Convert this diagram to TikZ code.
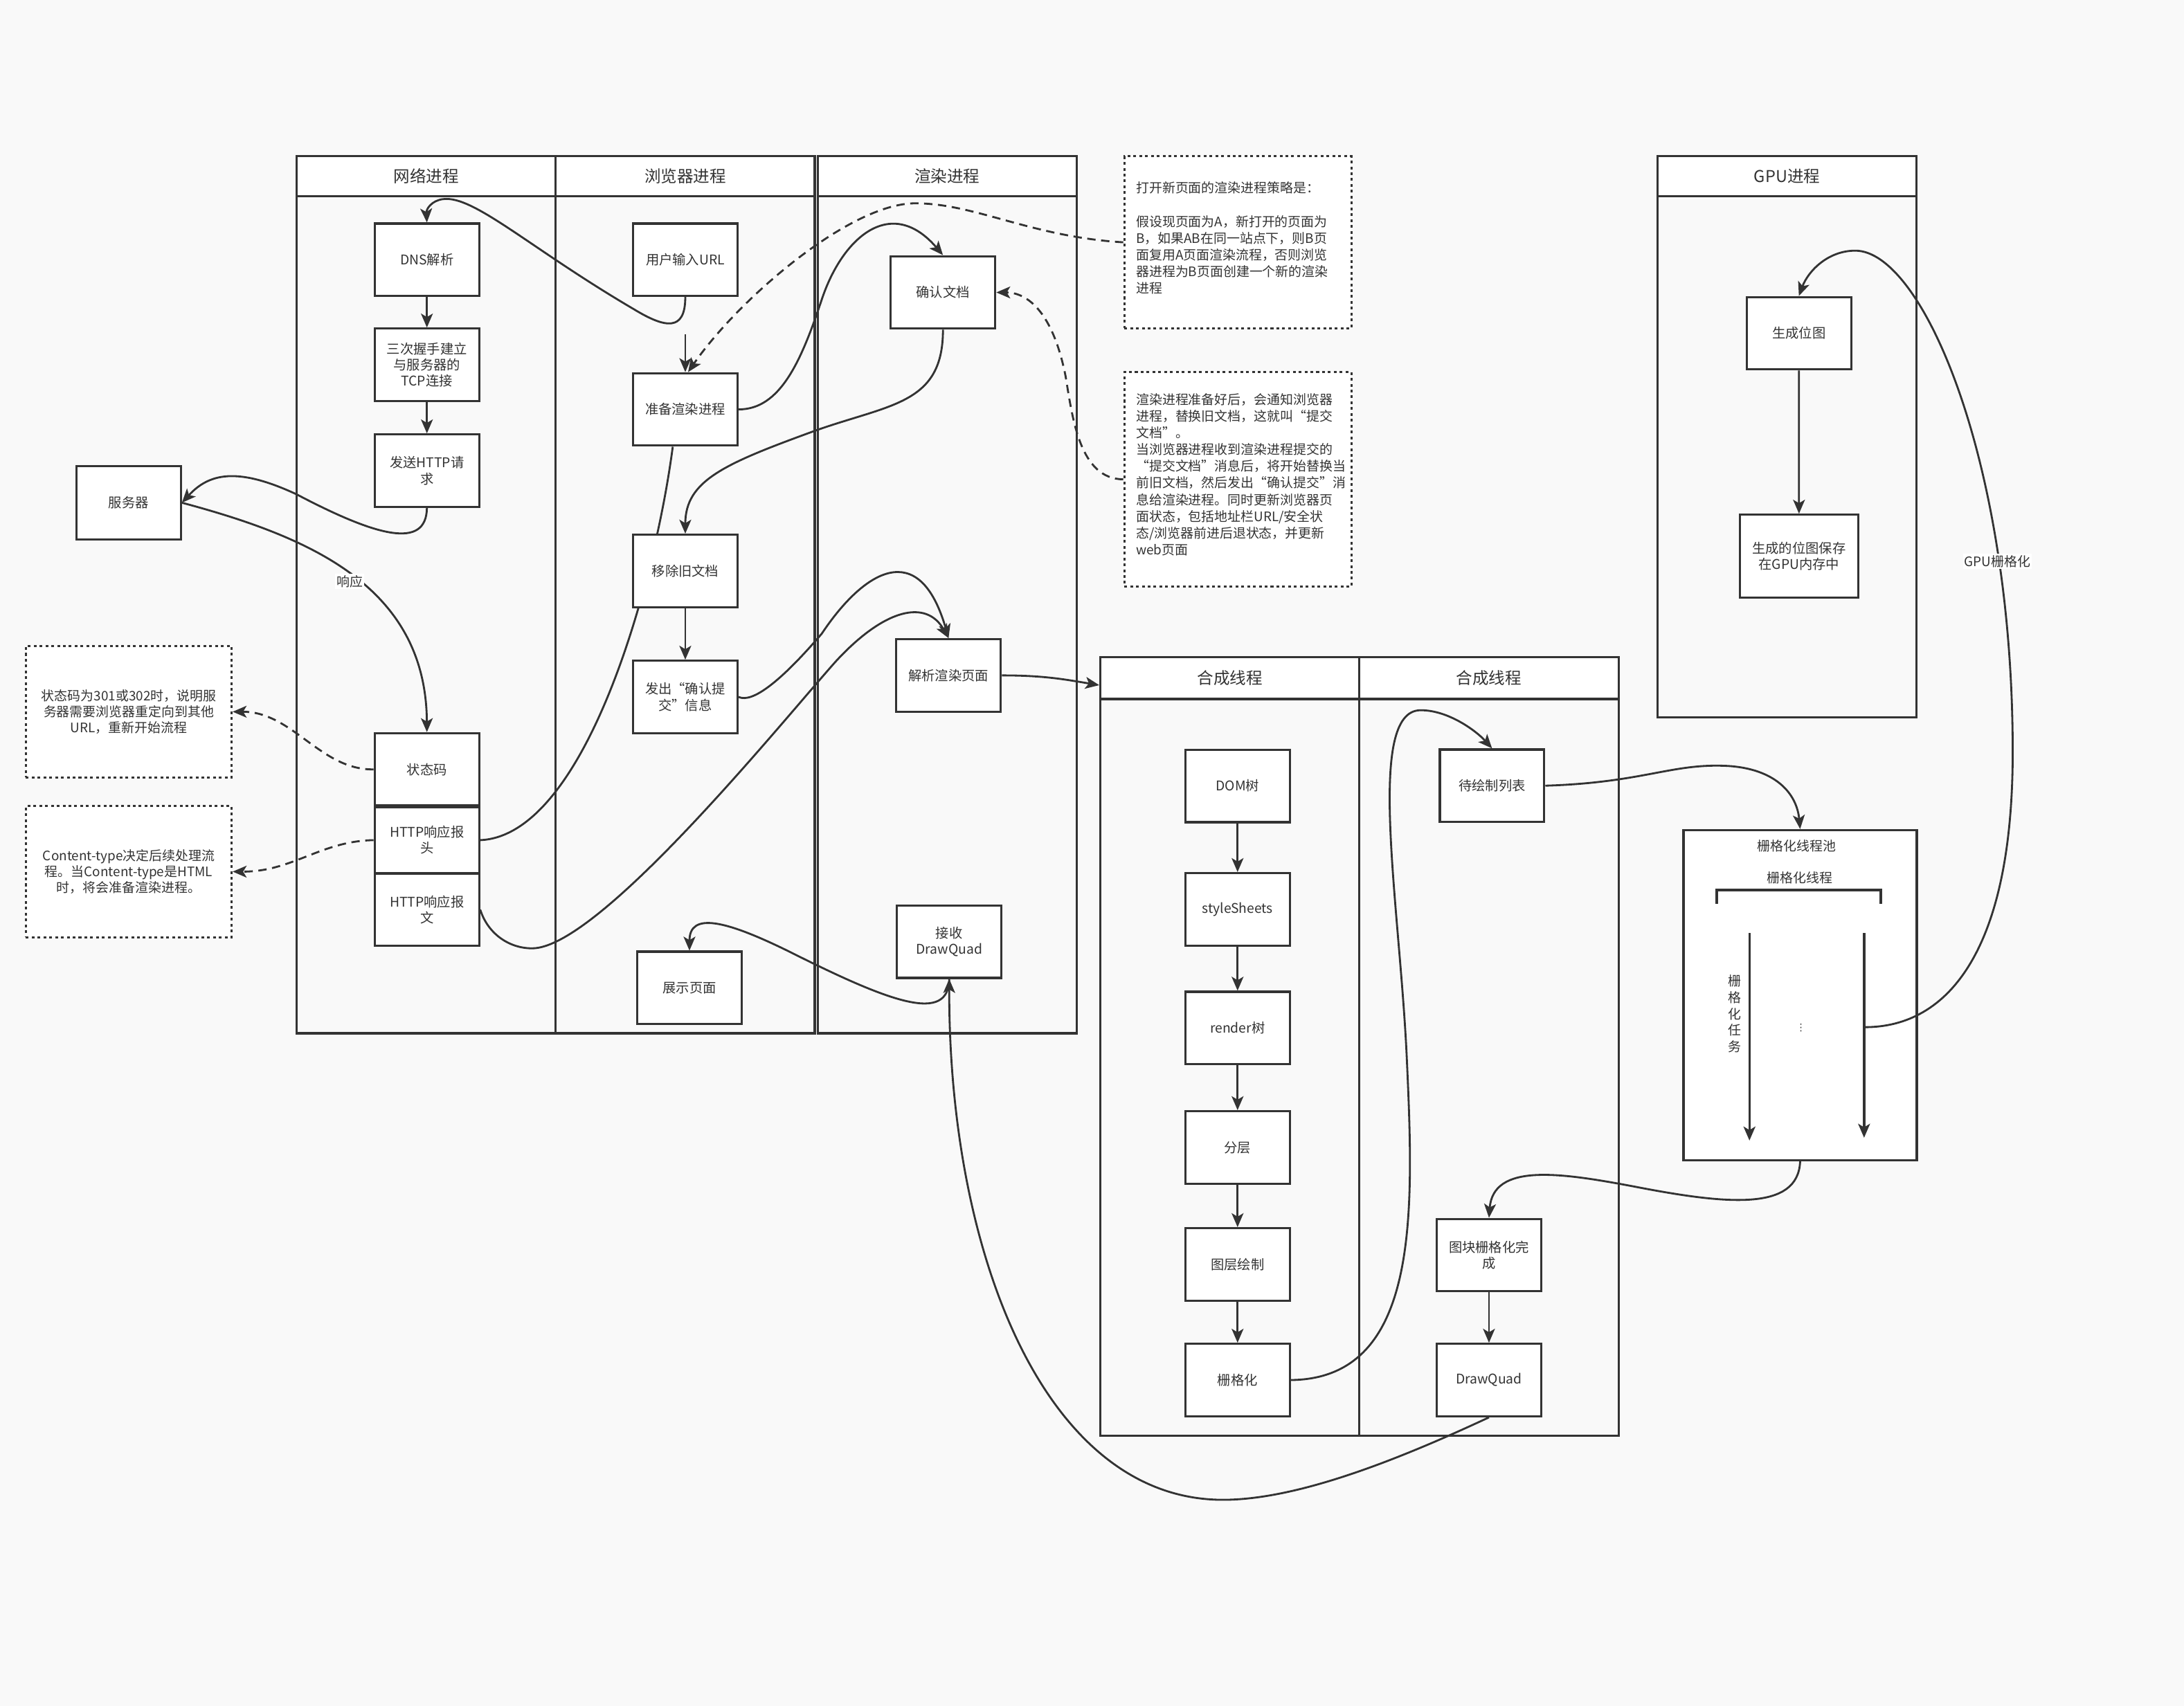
\documentclass[tikz,border=0pt]{standalone}
\usepackage{fontspec}
\setmainfont{Noto Sans CJK SC}
\newfontfamily\dejavu{DejaVu Sans}
\usetikzlibrary{arrows.meta,calc}
\definecolor{bgc}{HTML}{F9F9F9}
\definecolor{lc}{HTML}{333333}
\pgfdeclarelayer{bglayer}
\pgfdeclarelayer{edgelayer}
\pgfsetlayers{bglayer,edgelayer,main}
\begin{document}
\begin{tikzpicture}[x=1pt,y=-1pt,
  box/.style={draw=lc, fill=white, line width=1.6pt, minimum width=75pt, minimum height=52pt, inner sep=1pt, align=center, font=\fontsize{9.6}{11.5}\selectfont, text=lc},
  lanehead/.style={draw=lc, fill=white, line width=1.6pt, minimum width=186pt, minimum height=29pt, inner sep=0pt, font=\fontsize{11.7}{13}\selectfont, text=lc},
  lanebody/.style={draw=lc, line width=1.6pt},
  note/.style={draw=lc, fill=white, line width=1.5pt, dash pattern=on 2pt off 2.2pt, align=center, font=\fontsize{9.4}{11.6}\selectfont, text=lc, inner sep=0pt},
  notetext/.style={font=\fontsize{9.4}{12}\selectfont, text=lc, inner sep=0pt, align=left},
  con/.style={draw=lc, line width=1.4pt, -{Stealth[length=10pt,width=8.5pt,inset=2.5pt]}},
  plain/.style={draw=lc, line width=1.4pt},
  dcon/.style={con, dash pattern=on 6pt off 4pt},
  lbl/.style={fill=white, inner sep=1pt, font=\fontsize{9.4}{11}\selectfont, text=lc},
  txt/.style={inner sep=0pt, font=\fontsize{9.4}{12}\selectfont, text=lc, align=center}
]
\useasboundingbox (0,0) rectangle (1568,1225);
\begin{pgfonlayer}{bglayer}
  \fill[bgc] (0,0) rectangle (1568,1225);
  \draw[lanebody] (213,141) rectangle (399,742);
  \draw[lanebody] (399,141) rectangle (585,742);
  \draw[lanebody] (587,141) rectangle (773,742);
  \draw[lanebody] (790,502) rectangle (976,1031);
  \draw[lanebody] (976,502) rectangle (1162,1031);
  \draw[lanebody] (1190,141) rectangle (1376,515);
\end{pgfonlayer}

% lane headers
\node[lanehead] (h1) at (306,126.5) {网络进程};
\node[lanehead] (h2) at (492,126.5) {浏览器进程};
\node[lanehead] (h3) at (680,126.5) {渲染进程};
\node[lanehead, minimum height=30pt] (hA) at (883,487) {合成线程};
\node[lanehead, minimum height=30pt] (hB) at (1069,487) {合成线程};
\node[lanehead] (hG) at (1283,126.5) {GPU进程};

% network process
\node[box] (dns) at (306.5,186.5) {DNS解析};
\node[box] (tcp) at (306.5,262) {三次握手建立\\与服务器的\\TCP连接};
\node[box] (send) at (306.5,338) {发送HTTP请\\求};
\node[box] (status) at (306.5,552.5) {状态码};
\node[box, minimum height=47pt] (hdr) at (306.5,603.3) {HTTP响应报\\头};
\node[box, minimum height=52pt] (body) at (306.5,653.2) {HTTP响应报\\文};
\node[box, minimum height=52.5pt] (server) at (92.3,361) {服务器};

% browser process
\node[box] (url) at (492,186.5) {用户输入URL};
\node[box] (prep) at (492,294) {准备渲染进程};
\node[box] (remove) at (492,410) {移除旧文档};
\node[box] (send2) at (492,500.5) {发出“确认提\\交”信息};
\node[box] (show) at (495,709.4) {展示页面};

% renderer process
\node[box] (confirm) at (677,210) {确认文档};
\node[box] (parse) at (681,485) {解析渲染页面};
\node[box] (recv) at (681.5,676.2) {接收\\DrawQuad};

% compositor
\node[box] (dom) at (888.5,564.4) {DOM树};
\node[box] (css) at (888.5,653) {styleSheets};
\node[box] (rtree) at (888.5,738.2) {render树};
\node[box] (layer) at (888.5,824) {分层};
\node[box] (paint) at (888.5,908) {图层绘制};
\node[box] (rast) at (888.5,991) {栅格化};
\node[box] (todo) at (1071.2,564.2) {待绘制列表};
\node[box] (tile) at (1069,901.3) {图块栅格化完\\成};
\node[box] (dq) at (1069,991) {DrawQuad};

% GPU
\node[box] (bitmap) at (1291.5,239.3) {生成位图};
\node[box, minimum width=85pt, minimum height=59.5pt] (save) at (1291.6,399.4) {生成的位图保存\\在GPU内存中};

% notes
\node[note, minimum width=163pt, minimum height=123.5pt] (n1) at (888.7,174) {};
\node[notetext, anchor=north west] (n1t) at (815.5,130.5) {打开新页面的渲染进程策略是：\\[12pt]假设现页面为A，新打开的页面为\\B，如果AB在同一站点下，则B页\\面复用A页面渲染流程，否则浏览\\器进程为B页面创建一个新的渲染\\进程};
\node[note, minimum width=163pt, minimum height=154pt] (n2) at (888.7,344.2) {};
\node[notetext, anchor=north west] (n2t) at (815.5,282.2) {渲染进程准备好后，会通知浏览器\\进程，替换旧文档，这就叫“提交\\文档”。\\当浏览器进程收到渲染进程提交的\\“提交文档”消息后，将开始替换当\\前旧文档，然后发出“确认提交”消\\息给渲染进程。同时更新浏览器页\\面状态，包括地址栏URL/安全状\\态/浏览器前进后退状态，并更新\\web页面};
\node[note, minimum width=147.7pt, minimum height=94.4pt] (note3) at (92.45,511.1) {状态码为301或302时，说明服\\务器需要浏览器重定向到其他\\URL，重新开始流程};
\node[note, minimum width=147.7pt, minimum height=94.2pt] (note4) at (92.45,625.9) {Content-type决定后续处理流\\程。当Content-type是HTML\\时，将会准备渲染进程。};

% raster pool
\node[draw=lc, fill=white, line width=1.6pt, minimum width=167.5pt, minimum height=237pt, inner sep=0pt] (pool) at (1292.4,714.6) {};
\node[txt] (pt1) at (1290,607.7) {栅格化线程池};
\node[txt] (pt2) at (1292,630.4) {栅格化线程};
\draw[lc, line width=1.7pt] (1232.6,649) -- (1232.6,639.2) -- (1350.2,639.2) -- (1350.2,649);
\coordinate (a1s) at (1256,670);
\coordinate (a1e) at (1256,819);
\coordinate (a2s) at (1338.3,670);
\coordinate (a2e) at (1338.3,817);
\draw[con, line width=1.7pt] (a1s) -- (a1e);
\draw[con, line width=1.7pt] (a2s) -- (a2e);
\node[txt, font=\fontsize{9.4}{11.9}\selectfont] (vt) at (1245.5,728) {栅\\格\\化\\任\\务};
\node[txt, font=\dejavu\fontsize{7}{8}\selectfont] (dots) at (1293,738) {⋮};

% GPU rasterization curve (drawn over pool)
\coordinate (pm) at (1338.3,737.6);
\draw[con] (pm) .. controls (1400,738) and (1445,680) .. (1445,540) .. controls (1445,330) and (1380,180) .. (1332,180) .. controls (1312,180) and (1298,195) .. (bitmap.north);
\node[lbl] (gpul) at (1434,403) {GPU栅格化};

\coordinate (stub) at (492,240);

\begin{pgfonlayer}{edgelayer}
  % network chain
  \draw[con] (dns) -- (tcp);
  \draw[con] (tcp) -- (send);
  % url -> dns
  \draw[con] (url.south) .. controls (492,238) and (478,236) .. (455,222) .. controls (380,178) and (340,140) .. (318,143) .. controls (310,144) and (306,150) .. (dns.north);
  % stub -> prep
  \draw[con] (stub) -- (prep.north);
  % note1 -> prep
  \draw[dcon] (n1.west) .. controls (740,170) and (700,146) .. (657,146) .. controls (610,146) and (530,215) .. ($(prep.north)+(2,0)$);
  % prep -> confirm
  \draw[con] (prep.east) .. controls (560,294) and (575,260) .. (590,215) .. controls (605,170) and (640,140) .. (confirm.north);
  % confirm -> remove
  \draw[con] (confirm.south) .. controls (677,290) and (640,290) .. (586,309) .. controls (520,333) and (492,345) .. (remove.north);
  % header -> prep (line)
  \draw[plain] (hdr.east) .. controls (420,600) and (470,420) .. ($(prep.south)+(-9,0)$);
  % body -> parse
  \draw[con] (body.east) .. controls (350,670) and (365,681) .. (382,681) .. controls (430,681) and (560,520) .. (600,475) .. controls (635,437) and (665,430) .. (parse.north);
  % send2 -> parse
  \draw[con] (send2.east) .. controls (540,505) and (560,490) .. (590,455) .. controls (620,410) and (660,385) .. (parse.north);
  % remove -> send2
  \draw[con] (remove) -- (send2);
  % parse -> compositor
  \draw[con] (parse.east) .. controls (750,485) and (765,488) .. ($(hA.west)+(0,5)$);
  % recv -> show
  \draw[con] (recv.south) .. controls (681,735) and (640,720) .. (570,685) .. controls (520,660) and (495,655) .. (show.north);
  % dq -> recv
  \draw[con] (dq.south) .. controls (1000,1050) and (930,1077) .. (878,1077) .. controls (750,1077) and (681,900) .. (recv.south);
  % send -> server
  \draw[con] (send.south) .. controls (306,395) and (270,385) .. (213,355) .. controls (170,335) and (150,340) .. (server.east);
  % server -> status
  \draw[con] (server.east) .. controls (220,385) and (306,420) .. (status.north);
  % status -> note3
  \draw[dcon] (status.west) .. controls (230,553) and (210,511) .. (note3.east);
  % hdr -> note4
  \draw[dcon] (hdr.west) .. controls (230,604) and (210,626) .. (note4.east);
  % note2 -> confirm
  \draw[dcon] (n2.west) .. controls (775,344) and (770,300) .. (765,270) .. controls (755,220) and (735,210) .. (confirm.east);
  % compositor chain
  \draw[con] (dom) -- (css);
  \draw[con] (css) -- (rtree);
  \draw[con] (rtree) -- (layer);
  \draw[con] (layer) -- (paint);
  \draw[con] (paint) -- (rast);
  % rast -> todo
  \draw[con] (rast.east) .. controls (1020,990) and (1015,870) .. (1010,760) .. controls (1005,650) and (980,510) .. (1020,510) .. controls (1040,510) and (1060,525) .. (todo.north);
  % todo -> pool
  \draw[con] (todo.east) .. controls (1180,562) and (1200,548) .. (1240,550) .. controls (1275,552) and (1290,570) .. (pool.north);
  % pool -> tile
  \draw[con] (pool.south) .. controls (1291,870) and (1240,865) .. (1173,852) .. controls (1120,842) and (1072,835) .. (tile.north);
  \draw[con] (tile) -- (dq);
  \draw[con] (bitmap) -- (save);
\end{pgfonlayer}

\node[lbl] (resp) at (251,417.5) {响应};
\end{tikzpicture}
\end{document}
